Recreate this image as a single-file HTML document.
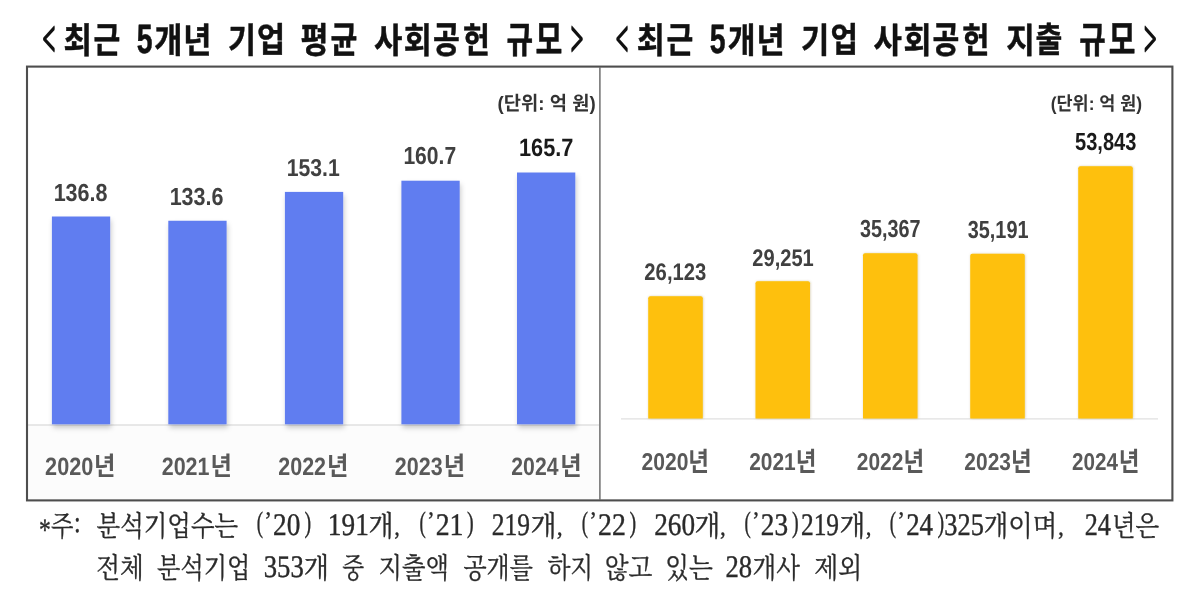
<!DOCTYPE html>
<html lang="ko">
<head>
<meta charset="utf-8">
<title>최근 5개년 기업 사회공헌 규모</title>
<style>
html,body{margin:0;padding:0;background:#fff;}
body{width:1200px;height:600px;position:relative;overflow:hidden;font-family:"Liberation Sans","Noto Sans CJK KR",sans-serif;}
svg{position:absolute;left:0;top:0;width:1200px;height:600px;overflow:visible;filter:blur(.45px);}
svg text{white-space:pre;text-rendering:geometricPrecision;}
.lb{fill:#617df0;filter:url(#shl);}
.rb{fill:#fec007;filter:url(#shr);}
</style>
</head>
<body>
<svg width="1200" height="600" viewBox="0 0 1200 600">
<defs>
<filter id="shl" x="-20%" y="-10%" width="150%" height="125%"><feDropShadow dx="1.2" dy="3.5" stdDeviation="2.8" flood-color="#000" flood-opacity=".2"/></filter>
<filter id="shr" x="-20%" y="-10%" width="140%" height="120%"><feDropShadow dx="0.5" dy="0" stdDeviation="1.2" flood-color="#7a5a00" flood-opacity=".3"/></filter>
</defs>
<rect x="28" y="425.5" width="571" height="74" fill="#fcfcfc"/>
<line x1="28" y1="425" x2="599" y2="425" stroke="#e0e0e0" stroke-width="1.4"/>
<line x1="621" y1="418.9" x2="1158" y2="418.9" stroke="#e0e0e0" stroke-width="1.4"/>
<g class="bars">
<rect class="lb" x="51.9" y="216.5" width="58.3" height="207.8"/>
<rect class="lb" x="168.3" y="220.75" width="58.3" height="203.55"/>
<rect class="lb" x="284.9" y="191.9" width="58.3" height="232.4"/>
<rect class="lb" x="401.4" y="180.7" width="58.3" height="243.6"/>
<rect class="lb" x="517" y="172.5" width="58.3" height="251.8"/>
<path class="rb" d="M648.25 418.6V298.25Q648.25 296.25 650.25 296.25H700.75Q702.75 296.25 702.75 298.25V418.6Z"/>
<path class="rb" d="M755.5 418.6V283.25Q755.5 281.25 757.5 281.25H808Q810 281.25 810 283.25V418.6Z"/>
<path class="rb" d="M863 418.6V255.25Q863 253.25 865 253.25H915.5Q917.5 253.25 917.5 255.25V418.6Z"/>
<path class="rb" d="M970.25 418.6V255.75Q970.25 253.75 972.25 253.75H1022.75Q1024.75 253.75 1024.75 255.75V418.6Z"/>
<path class="rb" d="M1078.25 418.6V168.25Q1078.25 166.25 1080.25 166.25H1130.75Q1132.75 166.25 1132.75 168.25V418.6Z"/>
</g>
<rect x="27" y="66.6" width="1145.4" height="433.8" fill="none" stroke="#4e4e4e" stroke-width="2.1"/>
<line x1="599.9" y1="67" x2="599.9" y2="500" stroke="#6e6e6e" stroke-width="1.5"/>
<g class="t1" font-family="'Liberation Sans','Noto Sans CJK KR',sans-serif" stroke="#111" stroke-width="0.5" stroke-linejoin="round"><text transform="matrix(0.7538 0 0 1.7067 42.49 55.65)" font-weight="400" font-size="30" fill="#111" font-family="'Liberation Serif','Noto Serif CJK SC',serif" stroke-width="1.3" vector-effect="non-scaling-stroke">&lt;</text><text transform="matrix(0.8338 0 0 0.9591 63.44 52.68)" font-weight="700" font-size="37" fill="#111">최</text><text transform="matrix(0.7865 0 0 0.9886 93.49 52.70)" font-weight="700" font-size="37" fill="#111">근</text>
<text transform="matrix(0.7662 0 0 1.1110 136.85 53.38)" font-weight="700" font-size="37" fill="#111">5</text><text transform="matrix(0.8285 0 0 0.9478 154.33 52.73)" font-weight="700" font-size="37" fill="#111">개</text><text transform="matrix(0.8256 0 0 0.9506 183.22 52.81)" font-weight="700" font-size="37" fill="#111">년</text>
<text transform="matrix(0.8213 0 0 0.9478 228.01 52.73)" font-weight="700" font-size="37" fill="#111">기</text><text transform="matrix(0.8230 0 0 0.9350 257.08 52.32)" font-weight="700" font-size="37" fill="#111">업</text>
<text transform="matrix(0.8188 0 0 0.9719 300.51 53.09)" font-weight="700" font-size="37" fill="#111">평</text><text transform="matrix(0.7880 0 0 1.0008 330.54 52.66)" font-weight="700" font-size="37" fill="#111">균</text>
<text transform="matrix(0.8340 0 0 0.9478 373.93 52.73)" font-weight="700" font-size="37" fill="#111">사</text><text transform="matrix(0.8204 0 0 0.9591 403.86 52.68)" font-weight="700" font-size="37" fill="#111">회</text><text transform="matrix(0.7880 0 0 1.0104 433.04 52.94)" font-weight="700" font-size="37" fill="#111">공</text><text transform="matrix(0.7902 0 0 0.9622 463.03 52.78)" font-weight="700" font-size="37" fill="#111">헌</text>
<text transform="matrix(0.7803 0 0 0.9969 506.39 52.54)" font-weight="700" font-size="37" fill="#111">규</text><text transform="matrix(0.7880 0 0 1.0788 535.54 54.35)" font-weight="700" font-size="37" fill="#111">모</text><text transform="matrix(0.7398 0 0 1.7067 570.86 55.65)" font-weight="400" font-size="30" fill="#111" font-family="'Liberation Serif','Noto Serif CJK SC',serif" stroke-width="1.3" vector-effect="non-scaling-stroke">&gt;</text></g>
<g class="t2" font-family="'Liberation Sans','Noto Sans CJK KR',sans-serif" stroke="#111" stroke-width="0.5" stroke-linejoin="round"><text transform="matrix(0.7360 0 0 1.7067 615.87 55.65)" font-weight="400" font-size="30" fill="#111" font-family="'Liberation Serif','Noto Serif CJK SC',serif" stroke-width="1.3" vector-effect="non-scaling-stroke">&lt;</text><text transform="matrix(0.8204 0 0 0.9591 636.76 52.68)" font-weight="700" font-size="37" fill="#111">최</text><text transform="matrix(0.7865 0 0 0.9886 666.39 52.70)" font-weight="700" font-size="37" fill="#111">근</text>
<text transform="matrix(0.7662 0 0 1.1110 709.75 53.38)" font-weight="700" font-size="37" fill="#111">5</text><text transform="matrix(0.8157 0 0 0.9478 727.63 52.73)" font-weight="700" font-size="37" fill="#111">개</text><text transform="matrix(0.8238 0 0 0.9506 756.57 52.81)" font-weight="700" font-size="37" fill="#111">년</text>
<text transform="matrix(0.8315 0 0 0.9478 801.05 52.73)" font-weight="700" font-size="37" fill="#111">기</text><text transform="matrix(0.8060 0 0 0.9350 830.50 52.32)" font-weight="700" font-size="37" fill="#111">업</text>
<text transform="matrix(0.8340 0 0 0.9478 873.48 52.73)" font-weight="700" font-size="37" fill="#111">사</text><text transform="matrix(0.8204 0 0 0.9591 903.41 52.68)" font-weight="700" font-size="37" fill="#111">회</text><text transform="matrix(0.7880 0 0 1.0104 932.59 52.94)" font-weight="700" font-size="37" fill="#111">공</text><text transform="matrix(0.7984 0 0 0.9622 962.18 52.78)" font-weight="700" font-size="37" fill="#111">헌</text>
<text transform="matrix(0.8366 0 0 0.9478 1006.34 52.73)" font-weight="700" font-size="37" fill="#111">지</text><text transform="matrix(0.7880 0 0 0.9464 1035.54 52.28)" font-weight="700" font-size="37" fill="#111">출</text>
<text transform="matrix(0.7772 0 0 0.9969 1079.30 52.54)" font-weight="700" font-size="37" fill="#111">규</text><text transform="matrix(0.7834 0 0 1.0788 1108.79 54.35)" font-weight="700" font-size="37" fill="#111">모</text><text transform="matrix(0.7363 0 0 1.7067 1143.91 55.65)" font-weight="400" font-size="30" fill="#111" font-family="'Liberation Serif','Noto Serif CJK SC',serif" stroke-width="1.3" vector-effect="non-scaling-stroke">&gt;</text></g>
<g class="u1" font-family="'Liberation Sans','Noto Sans CJK KR',sans-serif"><text transform="matrix(1.1019 0 0 1.1349 497.62 110.28)" font-weight="700" font-size="17" fill="#333">(단위: 억 원)</text></g>
<g class="u2" font-family="'Liberation Sans','Noto Sans CJK KR',sans-serif"><text transform="matrix(1.0277 0 0 1.1073 1050.68 110.38)" font-weight="700" font-size="17" fill="#333">(단위: 억 원)</text></g>
<g class="d1" font-family="'Liberation Sans','Noto Sans CJK KR',sans-serif"><text transform="matrix(1.0253 0 0 1.1727 53.65 200.62)" font-weight="700" font-size="21" fill="#404040">136.8</text>
<text transform="matrix(1.0253 0 0 1.1793 169.65 204.91)" font-weight="700" font-size="21" fill="#404040">133.6</text>
<text transform="matrix(1.0095 0 0 1.1660 286.67 175.62)" font-weight="700" font-size="21" fill="#404040">153.1</text>
<text transform="matrix(1.0042 0 0 1.1727 403.38 164.02)" font-weight="700" font-size="21" fill="#404040">160.7</text>
<text transform="matrix(1.0360 0 0 1.1925 518.94 156.11)" font-weight="700" font-size="21" fill="#1a1a1a">165.7</text></g>
<g class="d2" font-family="'Liberation Sans','Noto Sans CJK KR',sans-serif"><text transform="matrix(0.9635 0 0 1.1415 644.37 280.45)" font-weight="700" font-size="21" fill="#404040">26,123</text>
<text transform="matrix(0.9556 0 0 1.1470 752.37 265.54)" font-weight="700" font-size="21" fill="#404040">29,251</text>
<text transform="matrix(0.9437 0 0 1.1747 859.99 236.75)" font-weight="700" font-size="21" fill="#404040">35,367</text>
<text transform="matrix(0.9467 0 0 1.1692 967.69 237.56)" font-weight="700" font-size="21" fill="#404040">35,191</text>
<text transform="matrix(0.9561 0 0 1.1692 1074.99 150.06)" font-weight="700" font-size="21" fill="#1a1a1a">53,843</text></g>
<g class="x1" font-family="'Liberation Sans','Noto Sans CJK KR',sans-serif"><text transform="matrix(0.9839 0 0 1.1447 45.12 474.81)" font-weight="700" font-size="22" fill="#595959">2020</text><text transform="matrix(1.0568 0 0 1.1686 93.98 474.99)" font-weight="700" font-size="22" fill="#595959">년</text>
<text transform="matrix(0.9768 0 0 1.1447 161.68 474.81)" font-weight="700" font-size="22" fill="#595959">2021</text><text transform="matrix(1.0568 0 0 1.1686 210.53 474.99)" font-weight="700" font-size="22" fill="#595959">년</text>
<text transform="matrix(0.9768 0 0 1.1447 278.23 474.81)" font-weight="700" font-size="22" fill="#595959">2022</text><text transform="matrix(1.0568 0 0 1.1686 327.08 474.99)" font-weight="700" font-size="22" fill="#595959">년</text>
<text transform="matrix(0.9768 0 0 1.1447 394.78 474.81)" font-weight="700" font-size="22" fill="#595959">2023</text><text transform="matrix(1.0568 0 0 1.1686 443.63 474.99)" font-weight="700" font-size="22" fill="#595959">년</text>
<text transform="matrix(0.9629 0 0 1.1447 511.34 474.81)" font-weight="700" font-size="22" fill="#595959">2024</text><text transform="matrix(1.0568 0 0 1.1686 560.18 474.99)" font-weight="700" font-size="22" fill="#595959">년</text></g>
<g class="x2" font-family="'Liberation Sans','Noto Sans CJK KR',sans-serif"><text transform="matrix(0.9586 0 0 1.1067 641.54 469.92)" font-weight="700" font-size="22" fill="#595959">2020</text><text transform="matrix(1.0212 0 0 1.2080 688.24 470.72)" font-weight="700" font-size="22" fill="#595959">년</text>
<text transform="matrix(0.9517 0 0 1.1067 749.15 469.92)" font-weight="700" font-size="22" fill="#595959">2021</text><text transform="matrix(1.0212 0 0 1.2080 795.84 470.72)" font-weight="700" font-size="22" fill="#595959">년</text>
<text transform="matrix(0.9517 0 0 1.1067 856.75 469.92)" font-weight="700" font-size="22" fill="#595959">2022</text><text transform="matrix(1.0212 0 0 1.2080 903.44 470.72)" font-weight="700" font-size="22" fill="#595959">년</text>
<text transform="matrix(0.9517 0 0 1.1067 964.35 469.92)" font-weight="700" font-size="22" fill="#595959">2023</text><text transform="matrix(1.0212 0 0 1.2080 1011.04 470.72)" font-weight="700" font-size="22" fill="#595959">년</text>
<text transform="matrix(0.9381 0 0 1.1067 1071.96 469.92)" font-weight="700" font-size="22" fill="#595959">2024</text><text transform="matrix(1.0212 0 0 1.2080 1118.64 470.72)" font-weight="700" font-size="22" fill="#595959">년</text></g>
<g class="f1" font-family="'Liberation Serif','Noto Serif CJK SC',serif" stroke="#2a2a2a" stroke-width="0.3"><text transform="matrix(0.9846 0 0 1.2889 38.89 539.50)" font-weight="400" font-size="24" fill="#2a2a2a">*</text><text transform="matrix(0.9667 0 0 1.1937 50.89 536.02)" font-weight="400" font-size="24" fill="#2a2a2a">주</text><text transform="matrix(1.0000 0 0 1.2417 74.03 532.23)" font-weight="400" font-size="24" fill="#2a2a2a">:</text>
<text transform="matrix(1.0165 0 0 1.1937 96.62 536.02)" font-weight="400" font-size="24" fill="#2a2a2a">분석기업수는</text>
<text transform="matrix(0.7852 0 0 1.2249 256.71 532.37)" font-weight="400" font-size="24" fill="#2a2a2a">(</text><text transform="matrix(0.9697 0 0 1.0510 264.18 529.45)" font-weight="400" font-size="24" fill="#2a2a2a">’</text><text transform="matrix(1.1378 0 0 1.3091 273.05 535.31)" font-weight="400" font-size="24" fill="#2a2a2a">20</text><text transform="matrix(0.8314 0 0 1.2249 304.38 532.37)" font-weight="400" font-size="24" fill="#2a2a2a">)</text>
<text transform="matrix(1.1364 0 0 1.3091 327.87 535.31)" font-weight="400" font-size="24" fill="#2a2a2a">191</text><text transform="matrix(1.0821 0 0 1.1937 368.48 536.02)" font-weight="400" font-size="24" fill="#2a2a2a">개</text><text transform="matrix(0.9333 0 0 1.0196 394.30 535.18)" font-weight="400" font-size="24" fill="#2a2a2a">,</text>
<text transform="matrix(0.7852 0 0 1.2249 419.41 532.37)" font-weight="400" font-size="24" fill="#2a2a2a">(</text><text transform="matrix(0.9697 0 0 1.0510 426.88 529.45)" font-weight="400" font-size="24" fill="#2a2a2a">’</text><text transform="matrix(1.1571 0 0 1.3091 435.73 535.31)" font-weight="400" font-size="24" fill="#2a2a2a">21</text><text transform="matrix(0.8314 0 0 1.2249 467.08 532.37)" font-weight="400" font-size="24" fill="#2a2a2a">)</text>
<text transform="matrix(1.0638 0 0 1.3091 491.70 535.31)" font-weight="400" font-size="24" fill="#2a2a2a">219</text><text transform="matrix(1.1282 0 0 1.1937 530.43 536.02)" font-weight="400" font-size="24" fill="#2a2a2a">개</text><text transform="matrix(0.9867 0 0 1.0196 556.76 535.18)" font-weight="400" font-size="24" fill="#2a2a2a">,</text>
<text transform="matrix(0.7852 0 0 1.2249 581.71 532.37)" font-weight="400" font-size="24" fill="#2a2a2a">(</text><text transform="matrix(0.9697 0 0 1.0510 589.18 529.45)" font-weight="400" font-size="24" fill="#2a2a2a">’</text><text transform="matrix(1.1571 0 0 1.3091 598.03 535.31)" font-weight="400" font-size="24" fill="#2a2a2a">22</text><text transform="matrix(0.8314 0 0 1.2249 629.38 532.37)" font-weight="400" font-size="24" fill="#2a2a2a">)</text>
<text transform="matrix(1.1362 0 0 1.3091 654.15 535.31)" font-weight="400" font-size="24" fill="#2a2a2a">260</text><text transform="matrix(1.1128 0 0 1.1937 694.55 536.02)" font-weight="400" font-size="24" fill="#2a2a2a">개</text><text transform="matrix(0.9600 0 0 1.0196 720.08 535.18)" font-weight="400" font-size="24" fill="#2a2a2a">,</text>
<text transform="matrix(0.7852 0 0 1.2249 744.41 532.37)" font-weight="400" font-size="24" fill="#2a2a2a">(</text><text transform="matrix(0.9697 0 0 1.0510 751.88 529.45)" font-weight="400" font-size="24" fill="#2a2a2a">’</text><text transform="matrix(1.1378 0 0 1.3091 760.75 535.31)" font-weight="400" font-size="24" fill="#2a2a2a">23</text><text transform="matrix(0.8314 0 0 1.2249 792.08 532.37)" font-weight="400" font-size="24" fill="#2a2a2a">)</text><text transform="matrix(1.0609 0 0 1.3091 800.90 535.31)" font-weight="400" font-size="24" fill="#2a2a2a">219</text><text transform="matrix(1.1128 0 0 1.1937 839.55 536.02)" font-weight="400" font-size="24" fill="#2a2a2a">개</text><text transform="matrix(0.9600 0 0 1.0196 865.78 535.18)" font-weight="400" font-size="24" fill="#2a2a2a">,</text>
<text transform="matrix(0.7852 0 0 1.2249 889.81 532.37)" font-weight="400" font-size="24" fill="#2a2a2a">(</text><text transform="matrix(0.9697 0 0 1.0510 897.28 529.45)" font-weight="400" font-size="24" fill="#2a2a2a">’</text><text transform="matrix(1.1191 0 0 1.3091 906.16 535.31)" font-weight="400" font-size="24" fill="#2a2a2a">24</text><text transform="matrix(0.8314 0 0 1.2249 937.48 532.37)" font-weight="400" font-size="24" fill="#2a2a2a">)</text><text transform="matrix(1.0989 0 0 1.3091 944.26 535.31)" font-weight="400" font-size="24" fill="#2a2a2a">325</text><text transform="matrix(1.0565 0 0 1.1937 983.81 536.02)" font-weight="400" font-size="24" fill="#2a2a2a">개이며</text><text transform="matrix(0.9867 0 0 1.0196 1058.06 535.18)" font-weight="400" font-size="24" fill="#2a2a2a">,</text>
<text transform="matrix(1.0929 0 0 1.3091 1084.68 535.31)" font-weight="400" font-size="24" fill="#2a2a2a">24</text><text transform="matrix(1.0185 0 0 1.1937 1111.89 536.02)" font-weight="400" font-size="24" fill="#2a2a2a">년은</text></g>
<g class="f2" font-family="'Liberation Serif','Noto Serif CJK SC',serif" stroke="#2a2a2a" stroke-width="0.3"><text transform="matrix(1.0250 0 0 1.1937 96.35 578.02)" font-weight="400" font-size="24" fill="#2a2a2a">전체</text>
<text transform="matrix(1.0050 0 0 1.1937 157.12 578.02)" font-weight="400" font-size="24" fill="#2a2a2a">분석기업</text>
<text transform="matrix(1.1136 0 0 1.3091 263.75 577.31)" font-weight="400" font-size="24" fill="#2a2a2a">353</text><text transform="matrix(1.0897 0 0 1.1937 303.77 578.02)" font-weight="400" font-size="24" fill="#2a2a2a">개</text>
<text transform="matrix(0.9444 0 0 1.1937 342.15 578.02)" font-weight="400" font-size="24" fill="#2a2a2a">중</text>
<text transform="matrix(1.0116 0 0 1.1937 378.48 578.02)" font-weight="400" font-size="24" fill="#2a2a2a">지출액</text>
<text transform="matrix(0.9983 0 0 1.1937 463.38 578.02)" font-weight="400" font-size="24" fill="#2a2a2a">공개를</text>
<text transform="matrix(0.9809 0 0 1.1937 547.63 578.02)" font-weight="400" font-size="24" fill="#2a2a2a">하지</text>
<text transform="matrix(1.0267 0 0 1.1937 604.71 578.02)" font-weight="400" font-size="24" fill="#2a2a2a">않고</text>
<text transform="matrix(1.0272 0 0 1.1937 665.19 578.02)" font-weight="400" font-size="24" fill="#2a2a2a">있는</text>
<text transform="matrix(1.1111 0 0 1.3091 725.42 577.31)" font-weight="400" font-size="24" fill="#2a2a2a">28</text><text transform="matrix(1.0208 0 0 1.1937 752.60 578.02)" font-weight="400" font-size="24" fill="#2a2a2a">개사</text>
<text transform="matrix(1.0341 0 0 1.1937 814.22 578.02)" font-weight="400" font-size="24" fill="#2a2a2a">제외</text></g>

</svg>
</body>
</html>
